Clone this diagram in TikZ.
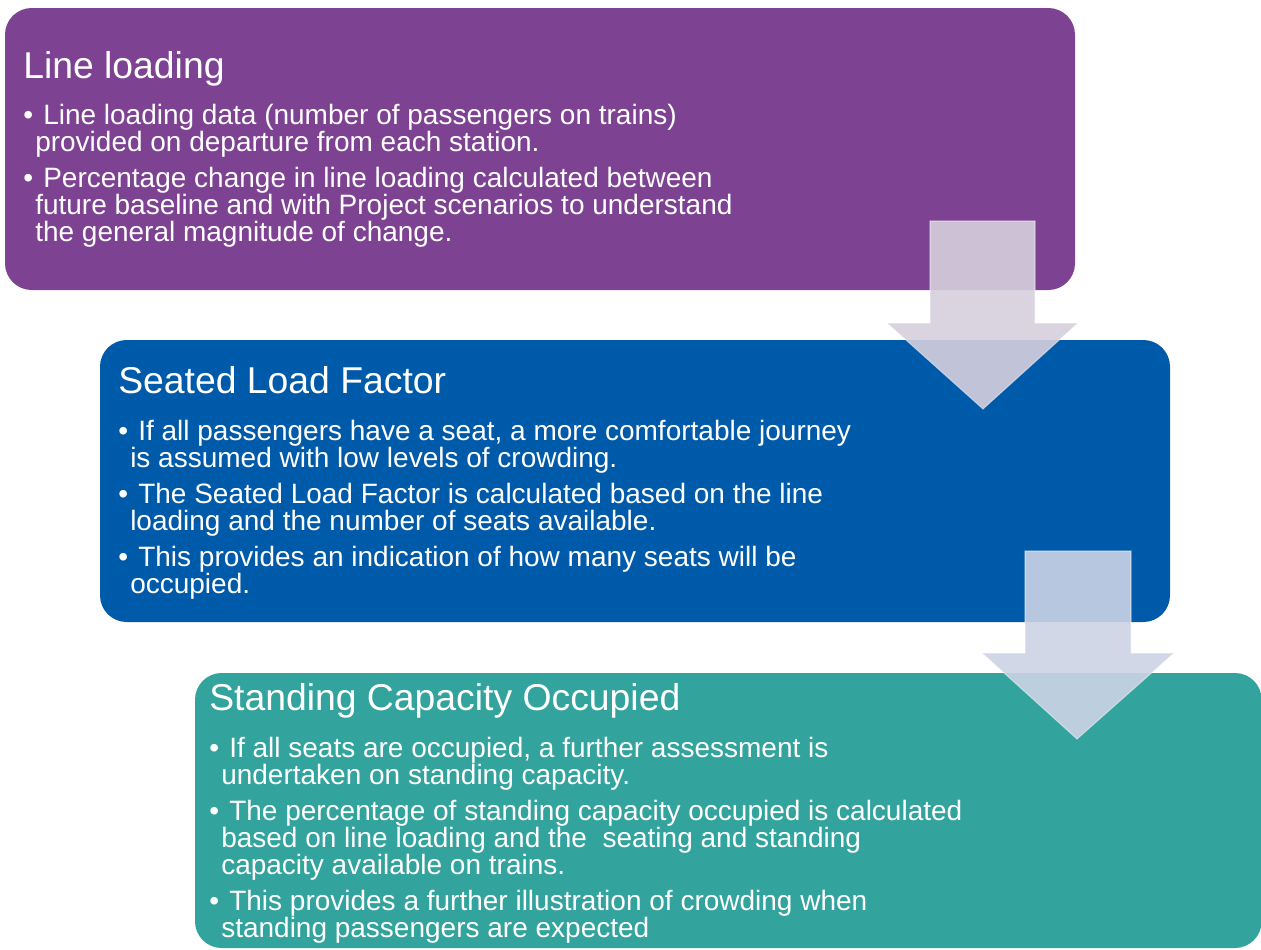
\documentclass[tikz,border=0pt]{standalone}
\usepackage{fontspec}
\setmainfont{Liberation Sans}
\definecolor{cpurple}{RGB}{126,66,147}
\definecolor{cblue}{RGB}{0,90,170}
\definecolor{cteal}{RGB}{51,163,158}
\definecolor{carrowA}{RGB}{214,207,222}
\definecolor{carrowB}{RGB}{205,211,230}
\newcommand{\bul}[1][15pt]{\makebox[#1][l]{\textbullet}}
\newcommand{\cnt}{\hspace*{9pt}}
\tikzset{
  panel/.style={anchor=north west, rounded corners=20pt, inner sep=0pt, outer sep=0pt},
  ptitle/.style={anchor=base west, inner sep=0pt, text=white, font=\fontsize{28}{33}\selectfont},
  pbody/.style={anchor=base west, inner sep=0pt, text=white},
  blockarrow/.style={fill opacity=0.9, draw=white, draw opacity=0.45, line width=0.8pt, line join=miter}
}
\newcommand{\bodytext}[1]{\parbox[t]{640pt}{\raggedright\fontsize{21}{20.25}\selectfont #1}}
\begin{document}
\begin{tikzpicture}[x=0.75pt,y=-0.75pt]
\useasboundingbox (0,0) rectangle (1261,950);
% panels
\node[panel, fill=cpurple, minimum width=802.5pt, minimum height=211.5pt] (p1) at (5,8) {};
\node[panel, fill=cblue, minimum width=802.5pt, minimum height=211.5pt] (p2) at (100,340) {};
% arrow 1
\path[blockarrow, fill=carrowA] (930,221) -- (1035,221) -- (1035,323) -- (1078,323) -- (983,409) -- (887,323) -- (930,323) -- cycle;
\node[panel, fill=cteal, minimum width=800pt, minimum height=206.25pt] (p3) at (195,673) {};
% arrow 2
\path[blockarrow, fill=carrowB] (1025,551) -- (1131,551) -- (1131,653) -- (1174,653) -- (1077,739) -- (982,653) -- (1025,653) -- cycle;
% texts
\node[ptitle] (t1) at (23,78) {Line loading};
\node[pbody] (b1) at (23,124) {\bodytext{%
\bul Line loading data (number of passengers on trains)\\
\cnt provided on departure from each station.\\[6.75pt]
\bul Percentage change in line loading calculated between\\
\cnt future baseline and with Project scenarios to understand\\
\cnt the general magnitude of change.}};
\node[ptitle] (t2) at (118,393) {Seated Load Factor};
\node[pbody] (b2) at (118,440) {\bodytext{%
\bul If all passengers have a seat, a more comfortable journey\\
\cnt is assumed with low levels of crowding.\\[6.75pt]
\bul The Seated Load Factor is calculated based on the line\\
\cnt loading and the number of seats available.\\[6.75pt]
\bul This provides an indication of how many seats will be\\
\cnt occupied.}};
\node[ptitle] (t3) at (209,710) {Standing Capacity Occupied};
\node[pbody] (b3) at (209,757) {\bodytext{%
\bul If all seats are occupied, a further assessment is\\
\cnt undertaken on standing capacity.\\[6.75pt]
\bul The percentage of standing capacity occupied is calculated\\
\cnt based on line loading and the \ seating and standing\\
\cnt capacity available on trains.\\[6.75pt]
\bul This provides a further illustration of crowding when\\
\cnt standing passengers are expected}};
\end{tikzpicture}
\end{document}
